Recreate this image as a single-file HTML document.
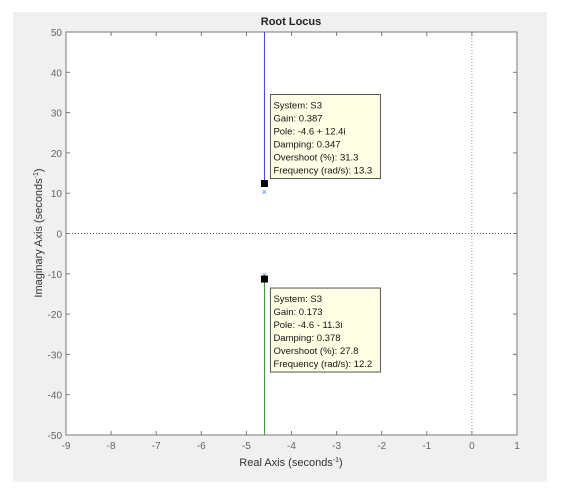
<!DOCTYPE html>
<html><head><meta charset="utf-8"><style>
body{margin:0;background:#fff;font-family:"Liberation Sans",sans-serif}
svg{display:block}
text{font-family:"Liberation Sans",sans-serif}
</style></head><body>
<svg width="561" height="501">
<rect x="13" y="12" width="534" height="470" fill="#f0f0f0"/>
<rect x="66" y="32" width="451" height="403" fill="#fff"/>
<g id="grid"></g>
<g id="axes"></g>
<g id="series"></g>
<g id="tips"></g>
<text x="291" y="25" font-size="11" font-weight="bold" text-anchor="middle" fill="#222">Root Locus</text>
<text x="291" y="466" font-size="11" text-anchor="middle" fill="#333">Real Axis (seconds<tspan dy="-4" font-size="7">-1</tspan><tspan dy="4">)</tspan></text>
<text transform="translate(42,233) rotate(-90)" font-size="11" text-anchor="middle" fill="#333">Imaginary Axis (seconds<tspan dy="-4" font-size="7">-1</tspan><tspan dy="4">)</tspan></text>
</svg>
<script>
const xTicks=[-9,-8,-7,-6,-5,-4,-3,-2,-1,0,1];
const yTicks=[-50,-40,-30,-20,-10,0,10,20,30,40,50];
const poleRe=[-4.6,-4.6];
const startIm=[10.3,-10.3];
const tipIm=[12.4,-11.3];
const endIm=[50,-50];
const seriesColors=['#3a3ae0','#2e9a2e'];
const tipLines=[["System: S3","Gain: 0.387","Pole: -4.6 + 12.4i","Damping: 0.347","Overshoot (%): 31.3","Frequency (rad/s): 13.3"],["System: S3","Gain: 0.173","Pole: -4.6 - 11.3i","Damping: 0.378","Overshoot (%): 27.8","Frequency (rad/s): 12.2"]];
const L=66,R=517,T=32,B=435;
const X=v=>L+(v+9)/10*(R-L);
const Y=v=>B-(v+50)/100*(B-T);
const NS='http://www.w3.org/2000/svg';
function mk(tag,attrs,parent,txt){const e=document.createElementNS(NS,tag);for(const k in attrs)e.setAttribute(k,attrs[k]);if(txt!==undefined)e.textContent=txt;document.getElementById(parent).appendChild(e);return e;}
// grid zero lines
let g=mk('line',{x1:L,x2:R,y1:Y(0),y2:Y(0),stroke:'#555','stroke-width':1,'stroke-dasharray':'1,2'},'grid');


g=mk('line',{x1:X(0),x2:X(0),y1:T,y2:B,stroke:'#888','stroke-width':1,'stroke-dasharray':'1,2'},'grid');


// axes box
let bx=mk('rect',{x:L,y:T,width:R-L,height:B-T,fill:'none',stroke:'#7a7a7a','stroke-width':1},'axes');


xTicks.forEach(v=>{
 mk('line',{x1:X(v),x2:X(v),y1:B,y2:B-4,stroke:'#7a7a7a'},'axes');
 mk('line',{x1:X(v),x2:X(v),y1:T,y2:T+4,stroke:'#7a7a7a'},'axes');
 const t=mk('text',{x:X(v),y:B+14,'font-size':10,'text-anchor':'middle',fill:'#666'},'axes',String(v));
 
 
});
yTicks.forEach(v=>{
 mk('line',{x1:L,x2:L+4,y1:Y(v),y2:Y(v),stroke:'#7a7a7a'},'axes');
 mk('line',{x1:R,x2:R-4,y1:Y(v),y2:Y(v),stroke:'#7a7a7a'},'axes');
 const t=mk('text',{x:L-4,y:Y(v)+4,'font-size':10,'text-anchor':'end',fill:'#666'},'axes',String(v));
 
 
});
poleRe.forEach((re,i)=>{
 const x=X(re);
 const ln=mk('line',{x1:x,x2:x,y1:Y(tipIm[i]),y2:Y(endIm[i]),stroke:seriesColors[i],'stroke-width':1},'series');
 
 
 const ys=Y(startIm[i]);
 const m=mk('text',{x:x,y:ys+3,'font-size':9,'text-anchor':'middle',fill:'#3a7ae0'},'series','×');
 
 
 const sq=mk('rect',{x:x-3.5,y:Y(tipIm[i])-3.5,width:7,height:7,fill:'#000'},'series');
 
 
 const bxY=i===0?Y(tipIm[i])-89:Y(tipIm[i])+9;
 const b=mk('rect',{x:x+6,y:bxY,width:110,height:84,fill:'#ffffe6',stroke:'#555','stroke-width':1},'tips');
 
 
 tipLines[i].forEach((s,j)=>{
  const t=mk('text',{x:x+9,y:bxY+14+j*13,'font-size':9.5,fill:'#111'},'tips',s);
  
  
 });
});
</script>
</body></html>
